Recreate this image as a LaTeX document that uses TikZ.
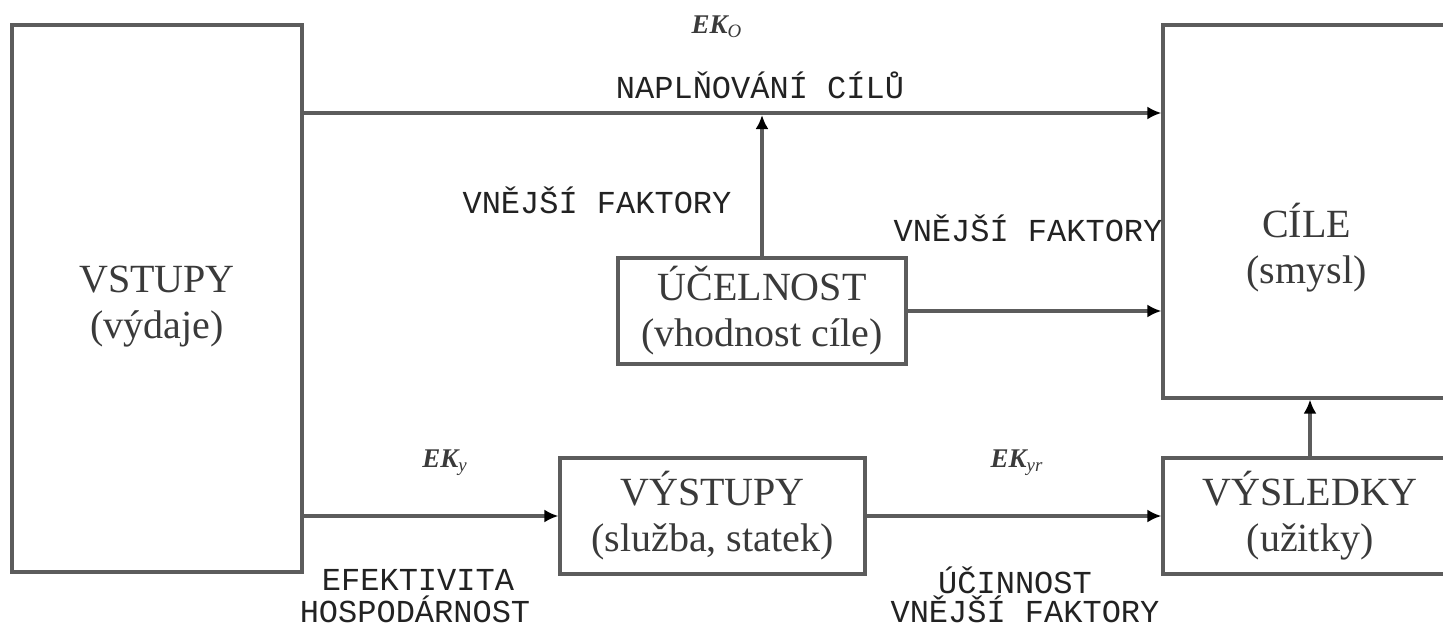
\documentclass[tikz,border=0pt]{standalone}
\usepackage{fontspec}
\setmainfont{Liberation Serif}
\newfontfamily\labfont{Liberation Mono}
\usetikzlibrary{arrows.meta}
\definecolor{linegray}{HTML}{5C5C5C}
\definecolor{txtgray}{HTML}{3A3A3A}
\definecolor{labgray}{HTML}{222222}
\tikzset{
  box/.style={draw=linegray, line width=1.6pt, fill=white, inner sep=0pt, align=center,
    text=txtgray, font=\fontsize{20}{23}\selectfont},
  conn/.style={draw=linegray, line width=1.8pt, -{Latex[length=7pt,width=6.5pt,color=black]}},
  lab/.style={text=labgray, font=\labfont\fontsize{16}{16}\selectfont, inner sep=0pt, align=center},
  ek/.style={text=txtgray, font=\bfseries\itshape\fontsize{13.5}{14}\selectfont, inner sep=0pt},
}
\begin{document}
\begin{tikzpicture}[x=0.5pt, y=-0.5pt]
\useasboundingbox (0,0) rectangle (1443,626);
\clip (0,0) rectangle (1443,626);
\fill[white] (0,0) rectangle (1443,626);

\node[box, minimum width=145pt, minimum height=273.5pt,
  label={[box, draw=none, fill=none, yshift=-4pt]center:{VSTUPY\\(výdaje)}}] (vstupy) at (157,298.5) {};
\node[box, minimum width=143.5pt, minimum height=186.5pt,
  label={[box, draw=none, fill=none, yshift=-18pt]center:{CÍLE\\(smysl)}}] (cile) at (1306.5,211.5) {};
\node[box, minimum width=144pt, minimum height=53pt] (ucel) at (762,311) {ÚČELNOST\\(vhodnost cíle)};
\node[box, minimum width=152.5pt, minimum height=58pt] (vystupy) at (712.5,516) {VÝSTUPY\\(služba, statek)};
\node[box, minimum width=147pt, minimum height=58pt] (vysledky) at (1310,516) {VÝSLEDKY\\(užitky)};

% connectors
\draw[conn] (vstupy.east |- 0,113) -- (cile.west |- 0,113);
\draw[conn] (ucel.north) -- (ucel.north |- 0,115);
\draw[conn] (ucel.east) -- (ucel.east -| cile.west);
\draw[conn] (vstupy.east |- vystupy.west) -- (vystupy.west);
\draw[conn] (vystupy.east) -- (vysledky.west);
\draw[conn] (vysledky.north) -- (vysledky.north |- cile.south);

% labels
\node[ek] (ek0) at (717,27) {EK$_{\mathit{O}}$};
\node[lab] (napl) at (760,85) {NAPLŇOVÁNÍ CÍLŮ};
\node[lab] (vf1) at (597,200) {VNĚJŠÍ FAKTORY};
\node[lab] (vf2) at (1028,228) {VNĚJŠÍ FAKTORY};
\node[ek] (eky) at (445,463) {EK$_{\mathit{y}}$};
\node[ek] (ekyr) at (1017,463) {EK$_{\mathit{yr}}$};
\node[lab] (efek) at (418,580) {EFEKTIVITA};
\node[lab] (hosp) at (415,609) {HOSPODÁRNOST};
\node[lab] (ucin) at (1015,580) {ÚČINNOST};
\node[lab] (vf3) at (1025,609) {VNĚJŠÍ FAKTORY};
\end{tikzpicture}
\end{document}
